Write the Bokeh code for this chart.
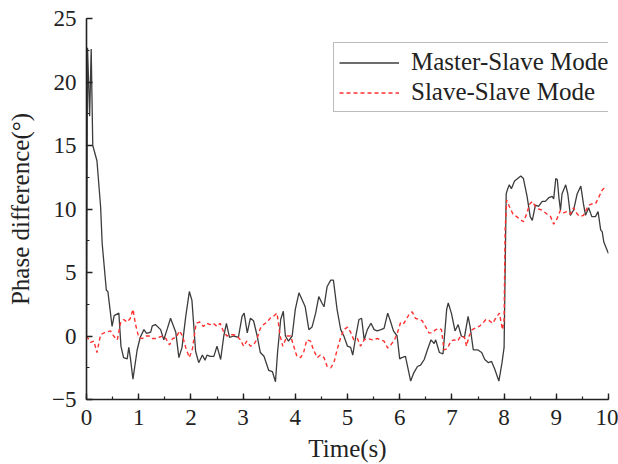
from bokeh.plotting import figure
from bokeh.models import Legend, LegendItem, SingleIntervalTicker, Range1d
from bokeh.embed import file_html
from bokeh.resources import INLINE

ms_t = [0.00, 0.02, 0.06, 0.09, 0.12, 0.20, 0.27, 0.30, 0.38, 0.41, 0.49, 0.53, 0.62, 0.66, 0.71, 0.78, 0.81, 0.84, 0.89, 0.97,
        1.03, 1.10, 1.15, 1.23, 1.26, 1.32, 1.42, 1.48, 1.55, 1.61, 1.71, 1.77, 1.83, 1.90, 1.97, 2.02, 2.09, 2.15, 2.22, 2.27,
        2.31, 2.37, 2.44, 2.50, 2.57, 2.63, 2.68, 2.74, 2.82, 2.91, 2.98, 3.02, 3.08, 3.14, 3.20, 3.27, 3.33, 3.40, 3.49, 3.56,
        3.62, 3.66, 3.72, 3.77, 3.81, 3.87, 3.94, 4.00, 4.07, 4.13, 4.19, 4.26, 4.32, 4.39, 4.45, 4.51, 4.55, 4.61, 4.68, 4.73,
        4.80, 4.87, 4.93, 5.00, 5.06, 5.10, 5.16, 5.22, 5.27, 5.32, 5.38, 5.45, 5.51, 5.57, 5.64, 5.70, 5.77, 5.82, 5.88, 5.95,
        6.00, 6.04, 6.11, 6.21, 6.27, 6.34, 6.40, 6.47, 6.53, 6.60, 6.66, 6.69, 6.76, 6.83, 6.90, 6.93, 6.99, 7.06, 7.12, 7.18,
        7.24, 7.31, 7.35, 7.41, 7.50, 7.57, 7.63, 7.70, 7.76, 7.82, 7.90, 7.96, 8.00, 8.04, 8.07, 8.10, 8.14, 8.20, 8.26, 8.32,
        8.37, 8.44, 8.50, 8.54, 8.57, 8.60, 8.66, 8.73, 8.79, 8.86, 8.92, 8.95, 8.99, 9.02, 9.05, 9.08, 9.11, 9.18, 9.22, 9.27,
        9.33, 9.40, 9.47, 9.52, 9.56, 9.62, 9.68, 9.75, 9.80, 9.85, 9.88, 9.91, 9.97, 10.00]
ms_v = [0.0, 22.7, 17.3, 22.6, 15.0, 13.8, 10.2, 7.3, 3.6, 3.5, 0.75, 1.6, 1.8, -0.8, -1.7, -1.8, -0.9, -1.7, -3.4, -1.1,
        -0.1, 0.5, 0.2, 0.3, 0.8, 0.9, 0.5, -0.3, 0.6, 1.4, 0.3, -1.7, -0.9, 1.5, 3.5, 2.8, -1.2, -2.1, -1.5, -1.9,
        -1.5, -1.6, -1.6, -0.8, -1.85, 0.0, 1.0, -0.1, 0.0, -0.1, 1.55, 1.8, 0.25, 1.4, 1.2, 0.0, -1.3, -1.6, -2.7, -2.8,
        -3.6, -1.3, 1.3, 1.95, 0.0, -0.4, 0.0, 2.1, 3.4, 2.85, 2.3, 0.5, 0.7, 1.8, 3.1, 2.6, 2.3, 3.9, 4.4, 4.4,
        2.1, 0.5, 0.0, -0.8, -0.9, -1.5, 0.0, 1.3, 1.4, -0.3, 0.5, 1.0, 0.5, 0.4, 0.5, 0.6, 1.8, 1.2, 0.4, 0.0,
        -1.8, -1.7, -1.6, -3.55, -2.9, -2.4, -2.3, -1.85, -1.1, -0.3, -0.6, -0.3, -1.3, -1.4, 2.1, 2.6, 1.8, 0.4, 0.9, 0.0,
        -0.1, 1.55, 0.7, -1.1, -1.1, -1.3, -1.85, -2.1, -2.0, -2.6, -3.55, -2.1, -0.9, 11.2, 11.6, 11.9, 11.6, 12.2, 12.4, 12.6,
        12.4, 11.0, 9.4, 9.1, 9.7, 10.3, 10.2, 10.6, 10.6, 10.9, 11.0, 10.8, 12.4, 12.3, 10.9, 9.9, 11.2, 11.9, 11.2, 9.5,
        9.9, 11.2, 11.8, 10.4, 9.5, 10.1, 9.4, 9.4, 9.8, 8.35, 8.2, 7.4, 6.8, 6.5]

ss_t = [0.00, 0.08, 0.14, 0.20, 0.27, 0.36, 0.46, 0.52, 0.59, 0.65, 0.71, 0.78, 0.84, 0.89, 0.94, 1.00, 1.07, 1.14, 1.20, 1.26,
        1.33, 1.39, 1.46, 1.52, 1.59, 1.65, 1.72, 1.78, 1.84, 1.90, 1.97, 2.03, 2.10, 2.17, 2.24, 2.30, 2.37, 2.43, 2.50, 2.56,
        2.62, 2.69, 2.75, 2.82, 2.88, 2.95, 3.01, 3.07, 3.14, 3.20, 3.26, 3.33, 3.39, 3.46, 3.52, 3.58, 3.65, 3.71, 3.76, 3.84,
        3.91, 3.97, 4.03, 4.10, 4.16, 4.22, 4.29, 4.35, 4.42, 4.48, 4.55, 4.61, 4.68, 4.74, 4.80, 4.87, 4.93, 5.00, 5.06, 5.12,
        5.19, 5.25, 5.32, 5.38, 5.48, 5.57, 5.64, 5.70, 5.77, 5.83, 5.90, 5.96, 6.02, 6.08, 6.18, 6.24, 6.30, 6.37, 6.43, 6.50,
        6.56, 6.62, 6.69, 6.75, 6.80, 6.85, 6.91, 6.98, 7.04, 7.11, 7.17, 7.24, 7.28, 7.33, 7.39, 7.46, 7.52, 7.59, 7.65, 7.72,
        7.78, 7.84, 7.91, 7.97, 8.00, 8.02, 8.05, 8.10, 8.17, 8.24, 8.30, 8.37, 8.43, 8.49, 8.54, 8.60, 8.66, 8.73, 8.82, 8.89,
        8.95, 9.01, 9.08, 9.14, 9.20, 9.27, 9.33, 9.40, 9.46, 9.52, 9.62, 9.68, 9.75, 9.81, 9.88, 9.96]
ss_v = [0.0, -0.5, -0.4, -1.3, 0.1, 0.3, 0.4, 0.0, -0.3, 1.0, 1.3, 1.1, 1.4, 2.1, 0.9, -0.1, -0.2, 0.0, 0.0, -0.2,
        -0.2, -0.1, 0.0, -0.2, -0.7, -0.2, -0.1, 0.4, 0.0, -0.9, -1.7, -1.0, 1.0, 1.1, 0.75, 1.0, 0.9, 1.0, 0.75, 1.0,
        0.4, 0.0, 0.1, 0.1, 0.0, -0.3, -0.8, -0.4, -0.8, -0.7, -0.3, 0.6, 0.9, 1.1, 1.4, 1.55, 1.8, 0.0, -0.8, 0.0,
        0.0, -0.8, -1.6, -1.7, -1.3, -0.3, -0.4, -1.1, -1.7, -1.5, -1.7, -2.4, -2.5, -2.1, -1.1, -0.1, 0.5, 0.7, 0.3, -0.3,
        -0.2, -0.8, -0.3, -0.2, -0.3, -0.2, -0.3, -0.4, -0.95, -0.7, -0.3, 0.3, 1.1, 1.0, 1.7, 1.9, 1.4, 1.3, 1.2, 0.7,
        0.25, 0.25, 0.5, 0.6, 0.5, -1.1, -1.0, -0.4, -0.3, -0.4, 0.0, -0.1, -0.8, 0.0, 0.5, 0.65, 0.75, 1.0, 1.3, 1.2,
        1.0, 1.4, 1.8, 0.5, 1.3, 8.4, 10.7, 10.2, 9.6, 9.4, 9.2, 9.0, 9.6, 10.4, 10.6, 10.2, 10.0, 9.9, 9.6, 9.4,
        8.8, 9.2, 9.9, 9.7, 9.8, 9.6, 10.1, 9.6, 9.4, 9.5, 10.3, 10.4, 10.4, 10.9, 11.5, 11.8]

series_names = ["Master-Slave Mode", "Slave-Slave Mode"]
x_label = "Time(s)"
y_label = "Phase difference(°)"

FONT = "Liberation Serif"

p = figure(width=618, height=464, output_backend="svg", toolbar_location=None,
           x_range=Range1d(0, 10), y_range=Range1d(-5, 25),
           min_border_left=86, min_border_right=10, min_border_top=18, min_border_bottom=64)
p.outline_line_color = None
p.grid.visible = False
p.background_fill_color = "white"
p.border_fill_color = "white"

r1 = p.line(ms_t, ms_v, line_color="#3c3c3c", line_width=1.3)
r2 = p.line(ss_t, ss_v, line_color="#ff3030", line_width=1.4, line_dash="4 3")

p.xaxis.ticker = SingleIntervalTicker(interval=1, num_minor_ticks=2)
p.yaxis.ticker = SingleIntervalTicker(interval=5, num_minor_ticks=2)

for ax in (p.xaxis[0], p.yaxis[0]):
    ax.axis_line_color = "#222222"
    ax.axis_line_width = 1.6
    ax.major_tick_line_color = "#222222"
    ax.major_tick_line_width = 1.4
    ax.minor_tick_line_color = "#222222"
    ax.minor_tick_line_width = 1.2
    ax.major_tick_in = 6
    ax.major_tick_out = 0
    ax.minor_tick_in = 3
    ax.minor_tick_out = 0
    ax.major_label_text_font = FONT
    ax.major_label_text_font_size = "23px"
    ax.major_label_text_color = "#222222"
    ax.axis_label_text_font = FONT
    ax.axis_label_text_font_size = "25px"
    ax.axis_label_text_font_style = "normal"
    ax.axis_label_text_color = "#222222"

p.xaxis.axis_label = x_label
p.yaxis.axis_label = y_label
p.xaxis.major_label_standoff = 10
p.yaxis.major_label_standoff = 10
p.xaxis.axis_label_standoff = 7
p.yaxis.axis_label_standoff = 15

legend = Legend(items=[LegendItem(label=series_names[0], renderers=[r1]),
                       LegendItem(label=series_names[1], renderers=[r2])],
                location=(247, 287))
legend.label_text_font = FONT
legend.label_text_font_size = "25px"
legend.label_text_color = "#222222"
legend.glyph_width = 60
legend.glyph_height = 27
legend.label_height = 27
legend.label_standoff = 12
legend.spacing = 2
legend.padding = 5
legend.margin = 0
legend.border_line_color = "#777777"
legend.border_line_width = 1
legend.background_fill_alpha = 1
p.add_layout(legend)

open("out.html", "w").write(file_html(p, INLINE))
